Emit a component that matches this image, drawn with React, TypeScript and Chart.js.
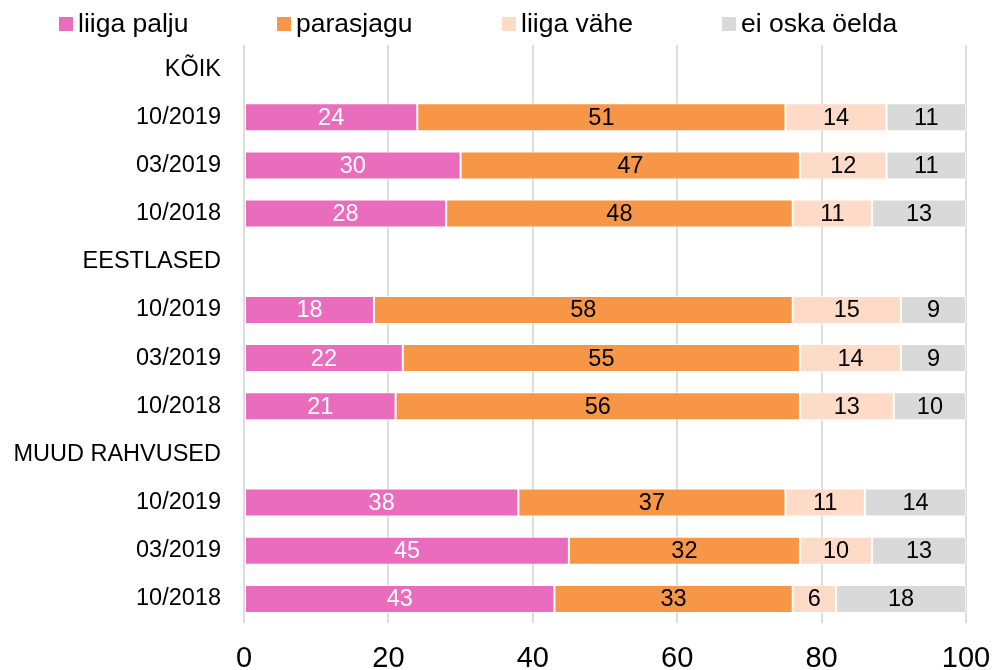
import React, { useEffect, useRef } from "react";
import { Chart, registerables } from "chart.js";

Chart.register(...registerables);

const categories = [
  "KÕIK", "10/2019", "03/2019", "10/2018",
  "EESTLASED", "10/2019", "03/2019", "10/2018",
  "MUUD RAHVUSED", "10/2019", "03/2019", "10/2018",
];
const seriesNames = ["liiga palju", "parasjagu", "liiga vähe", "ei oska öelda"];
const liigaPalju = [null, 24, 30, 28, null, 18, 22, 21, null, 38, 45, 43];
const parasjagu = [null, 51, 47, 48, null, 58, 55, 56, null, 37, 32, 33];
const liigaVahe = [null, 14, 12, 11, null, 15, 14, 13, null, 11, 10, 6];
const eiOskaOelda = [null, 11, 11, 13, null, 9, 9, 10, null, 14, 13, 18];
const xTicks = [0, 20, 40, 60, 80, 100];

const colors = ["#E96CBD", "#F79646", "#FDDBC7", "#D9D9D9"];
const labelColors = ["#FFFFFF", "#000000", "#000000", "#000000"];
const FONT = "'Liberation Sans', Arial, sans-serif";

const valueLabels = {
  id: "valueLabels",
  afterDatasetsDraw(chart: any) {
    const ctx = chart.ctx;
    ctx.save();
    ctx.font = `23.5px ${FONT}`;
    ctx.textAlign = "center";
    ctx.textBaseline = "middle";
    chart.data.datasets.forEach((ds: any, di: number) => {
      const meta = chart.getDatasetMeta(di);
      meta.data.forEach((el: any, i: number) => {
        const v = ds.data[i];
        if (v == null) return;
        const { x, y, base } = el.getProps(["x", "y", "base"], true);
        ctx.fillStyle = labelColors[di];
        ctx.fillText(String(v), (x + base) / 2, y + 1);
      });
    });
    ctx.restore();
  },
};

const customLegend = {
  id: "customLegend",
  afterDraw(chart: any) {
    const ctx = chart.ctx;
    const xs = [59, 277, 502, 722];
    ctx.save();
    ctx.font = `26.5px ${FONT}`;
    ctx.textAlign = "left";
    ctx.textBaseline = "alphabetic";
    chart.data.datasets.forEach((ds: any, i: number) => {
      ctx.fillStyle = colors[i];
      ctx.fillRect(xs[i], 17, 14, 14);
      ctx.fillStyle = "#000";
      ctx.fillText(ds.label, xs[i] + 19, 32);
    });
    ctx.restore();
  },
};

export default function App() {
  const ref = useRef<HTMLCanvasElement>(null);
  useEffect(() => {
    if (!ref.current) return;
    const series = [liigaPalju, parasjagu, liigaVahe, eiOskaOelda];
    const chart = new Chart(ref.current, {
      type: "bar",
      data: {
        labels: categories,
        datasets: series.map((d, i) => ({
          label: seriesNames[i],
          data: d,
          backgroundColor: colors[i],
          borderColor: "rgba(255,255,255,0.6)",
          borderWidth: 1,
          borderSkipped: false,
          barPercentage: 0.58,
          categoryPercentage: 1,
        })),
      },
      options: {
        indexAxis: "y",
        animation: false,
        responsive: false,
        maintainAspectRatio: false,
        layout: { padding: { top: 45, right: 29, bottom: 0, left: 0 } },
        plugins: {
          legend: { display: false },
          tooltip: { enabled: false },
        },
        scales: {
          x: {
            stacked: true,
            min: 0,
            max: 100,
            afterBuildTicks: (s: any) => {
              s.ticks = xTicks.map((v) => ({ value: v }));
            },
            afterFit: (s: any) => {
              s.height = 47;
              s.paddingRight = 0;
              s.paddingLeft = 0;
            },
            grid: { color: "#DDDDDD", lineWidth: 2, drawTicks: false },
            border: { display: false },
            ticks: {
              font: { family: FONT, size: 29 },
              color: "#000",
              padding: 19,
              maxRotation: 0,
            },
          },
          y: {
            stacked: true,
            afterFit: (s: any) => {
              s.width = 244;
            },
            grid: { display: false, drawTicks: false },
            border: { display: false },
            ticks: {
              autoSkip: false,
              font: { family: FONT, size: 23.5 },
              color: "#000",
              padding: 23,
            },
          },
        },
      },
      plugins: [valueLabels, customLegend],
    });
    return () => chart.destroy();
  }, []);
  return (
    <div style={{ position: "absolute", left: 0, top: 0, width: 995, height: 670, background: "#fff" }}>
      <canvas ref={ref} width={995} height={670} style={{ display: "block" }} />
    </div>
  );
}
